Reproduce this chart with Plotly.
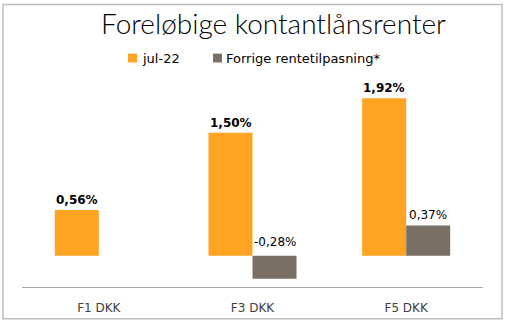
import plotly.graph_objects as go

categories = ["F1 DKK", "F3 DKK", "F5 DKK"]
series_names = ["jul-22", "Forrige rentetilpasning*"]
jul22 = [0.56, 1.50, 1.92]
forrige = [None, -0.28, 0.37]
colors = ["#FFA422", "#7A6F64"]

W, H = 505, 327
L, R, T, B = 22, 22, 86, 36
PW, PH = W - L - R, H - T - B

def px(x):
    return (x - L) / PW

def py(y):
    return (H - B - y) / PH

fig = go.Figure()
fig.add_trace(go.Bar(x=categories, y=jul22, name=series_names[0],
                     marker=dict(color=colors[0], line=dict(width=0))))
fig.add_trace(go.Bar(x=categories, y=forrige, name=series_names[1],
                     marker=dict(color=colors[1], line=dict(width=0))))

annotations = []
for c, v in zip(categories, jul22):
    annotations.append(dict(x=c, y=v, xref="x", yref="y", xshift=-22, yshift=1,
                            yanchor="bottom", showarrow=False,
                            text=f"<b>{v:.2f}%</b>".replace(".", ","),
                            font=dict(family="DejaVu Sans", size=12, color="#000000")))
for c, v in zip(categories, forrige):
    if v is None:
        continue
    annotations.append(dict(x=c, y=max(v, 0), xref="x", yref="y", xshift=22,
                            yshift=1 if v >= 0 else 5,
                            yanchor="bottom", showarrow=False,
                            text=f"{v:.2f}%".replace(".", ","),
                            font=dict(family="DejaVu Sans", size=12, color="#000000")))

# manual legend
leg = [(128, 140, series_names[0], colors[0]), (213, 224, series_names[1], colors[1])]
shapes = []
for sx, tx, name, col in leg:
    shapes.append(dict(type="rect", xref="paper", yref="paper",
                       x0=px(sx), x1=px(sx + 9), y0=py(62), y1=py(53),
                       fillcolor=col, line=dict(width=0)))
    annotations.append(dict(x=px(tx), y=py(57.5), xref="paper", yref="paper",
                            xanchor="left", yanchor="middle", showarrow=False,
                            text=name,
                            font=dict(family="DejaVu Sans", size=13, color="#000000")))

# outer border
shapes.append(dict(type="rect", xref="paper", yref="paper",
                   x0=px(3), x1=px(502), y0=py(323.5), y1=py(3),
                   line=dict(color="#BFBFBF", width=1.5), fillcolor="rgba(0,0,0,0)"))

fig.update_layout(
    width=W, height=H,
    margin=dict(l=L, r=R, t=T, b=B),
    paper_bgcolor="white", plot_bgcolor="white",
    barmode="group", bargap=0.427, bargroupgap=0,
    showlegend=False,
    title=dict(text="Foreløbige kontantlånsrenter", x=273.5 / W, xanchor="center",
               y=1 - 24 / H, yanchor="middle", yref="container",
               font=dict(family="Lato", size=28, weight=300, color="#000000")),
    annotations=annotations,
    shapes=shapes,
)
fig.update_xaxes(showline=True, linecolor="#A6A6A6", linewidth=1,
                 showgrid=False, ticks="", ticklabelstandoff=10,
                 tickfont=dict(family="DejaVu Sans", size=12, color="#404040"))
fig.update_yaxes(range=[-0.38, 2.07], visible=False, showgrid=False, zeroline=False)

fig.write_html("out.html")
